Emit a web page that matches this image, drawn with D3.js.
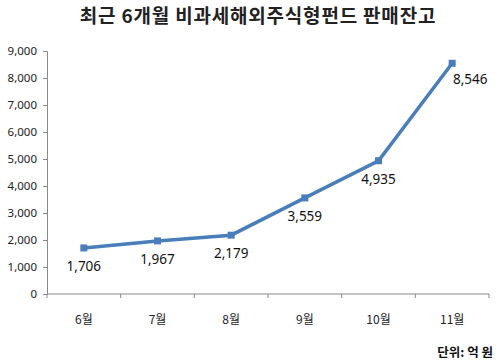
<!DOCTYPE html>
<meta charset="utf-8">
<script src="https://d3js.org/d3.v7.min.js"></script>
<style>
  body { margin: 0; background: #fff; }
  text { font-family: "Noto Sans CJK KR", "Noto Sans", sans-serif; }
</style>
<body>
<div id="chart"></div>
<script>
var months = ["6월", "7월", "8월", "9월", "10월", "11월"];
var balances = [1706, 1967, 2179, 3559, 4935, 8546];
var yTicks = [0, 1000, 2000, 3000, 4000, 5000, 6000, 7000, 8000, 9000];

var W = 500, H = 363;
var margin = {top: 51, right: 11, bottom: 69, left: 47},
    width = W - margin.left - margin.right,
    height = H - margin.top - margin.bottom;

var svg = d3.select("#chart").append("svg")
    .attr("width", W)
    .attr("height", H);

svg.append("text")
    .attr("x", 258)
    .attr("y", 23)
    .attr("text-anchor", "middle")
    .style("font-size", "19px")
    .style("font-weight", "bold")
    .style("letter-spacing", "0.8px")
    .attr("fill", "#222")
    .text("최근 6개월 비과세해외주식형펀드 판매잔고");

var g = svg.append("g")
    .attr("transform", "translate(" + margin.left + "," + margin.top + ")");

var x = d3.scaleBand().domain(months).range([0, width]);
var y = d3.scaleLinear().domain([0, 9000]).range([height, 0]);

// y axis
var yAxis = g.append("g")
    .call(d3.axisLeft(y).tickValues(yTicks).tickSize(4).tickFormat(d3.format(",")));
yAxis.select(".domain").attr("stroke", "#888");
yAxis.selectAll(".tick line").attr("stroke", "#888");
yAxis.selectAll("text").style("font-size", "11.5px").attr("fill", "#222").attr("x", -10)
    .style("font-family", "'Noto Sans', sans-serif");

// x axis with ticks at band edges
var xAxis = g.append("g")
    .attr("transform", "translate(0," + height + ")");
xAxis.append("line")
    .attr("x1", 0).attr("x2", width)
    .attr("stroke", "#888");
var edges = months.map(function(m) { return x(m); }).concat([width]);
xAxis.selectAll(".edge").data(edges).enter().append("line")
    .attr("x1", function(d) { return d; })
    .attr("x2", function(d) { return d; })
    .attr("y1", 0).attr("y2", 4)
    .attr("stroke", "#888");
xAxis.selectAll(".lbl").data(months).enter().append("text")
    .attr("x", function(d) { return x(d) + x.bandwidth() / 2; })
    .attr("y", 30)
    .attr("text-anchor", "middle")
    .style("font-size", "12px")
    .attr("fill", "#222")
    .text(function(d) { return d; });

var pts = months.map(function(m, i) { return {m: m, v: balances[i]}; });

g.append("path")
    .datum(pts)
    .attr("fill", "none")
    .attr("stroke", "#4a7ebb")
    .attr("stroke-width", 3.5)
    .attr("d", d3.line()
        .x(function(d) { return x(d.m) + x.bandwidth() / 2; })
        .y(function(d) { return y(d.v); }));

g.selectAll(".mk").data(pts).enter().append("rect")
    .attr("x", function(d) { return x(d.m) + x.bandwidth() / 2 - 3.5; })
    .attr("y", function(d) { return y(d.v) - 3.5; })
    .attr("width", 7).attr("height", 7)
    .attr("fill", "#4a7ebb");

g.selectAll(".vl").data(pts).enter().append("text")
    .attr("x", function(d, i) { return x(d.m) + x.bandwidth() / 2 + (i === 5 ? 18 : 0); })
    .attr("y", function(d, i) { return y(d.v) + (i === 5 ? 21 : 23); })
    .attr("text-anchor", "middle")
    .style("font-size", "13.5px")
    .style("font-family", "'Noto Sans', sans-serif")
    .attr("fill", "#111")
    .text(function(d) { return d3.format(",")(d.v); });

svg.append("text")
    .attr("x", 493)
    .attr("y", 357)
    .attr("text-anchor", "end")
    .style("font-size", "12.5px")
    .style("font-weight", "bold")
    .attr("fill", "#111")
    .text("단위: 억 원");
</script>
</body>
